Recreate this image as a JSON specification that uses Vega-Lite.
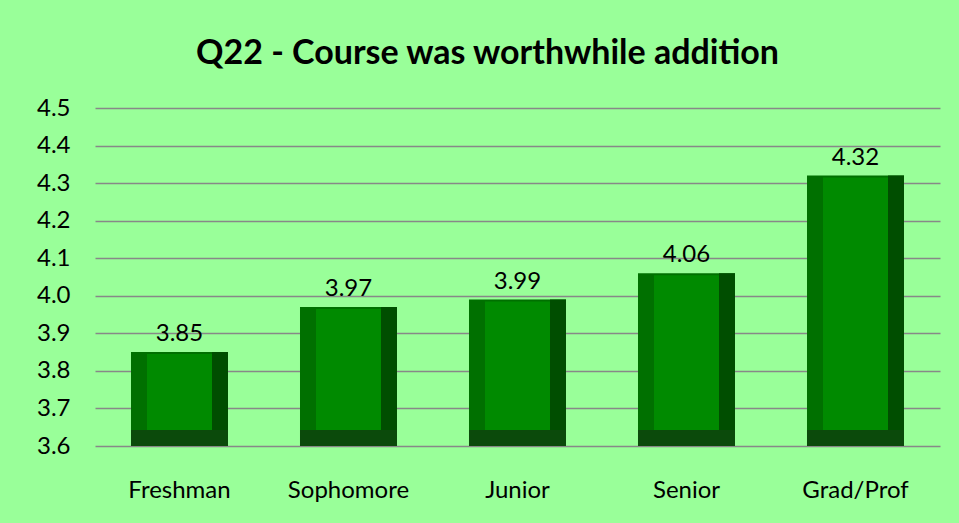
{
  "$schema": "https://vega.github.io/schema/vega-lite/v6.json",
  "width": 845,
  "height": 338,
  "autosize": {"type": "none"},
  "padding": {"left": 95, "top": 108, "right": 19, "bottom": 77},
  "background": "#99FF99",
  "title": {
    "text": "Q22 - Course was worthwhile addition",
    "font": "Lato",
    "fontSize": 34,
    "fontWeight": "bold",
    "color": "#000000",
    "anchor": "middle",
    "dx": -30,
    "offset": 25
  },
  "data": {
    "values": [
      {"group": "Freshman", "score": 3.85},
      {"group": "Sophomore", "score": 3.97},
      {"group": "Junior", "score": 3.99},
      {"group": "Senior", "score": 4.06},
      {"group": "Grad/Prof", "score": 4.32}
    ]
  },
  "encoding": {
    "x": {
      "field": "group",
      "type": "nominal",
      "sort": null,
      "scale": {"paddingInner": 0.426, "paddingOuter": 0.213},
      "axis": {
        "title": null,
        "labelAngle": 0,
        "labelFont": "Lato",
        "labelFontSize": 24,
        "labelColor": "#000000",
        "labelPadding": 32,
        "ticks": false,
        "domain": false
      }
    },
    "y": {
      "field": "score",
      "type": "quantitative",
      "scale": {"domain": [3.6, 4.5], "zero": false, "nice": false},
      "axis": {
        "title": null,
        "values": [3.6, 3.7, 3.8, 3.9, 4.0, 4.1, 4.2, 4.3, 4.4, 4.5],
        "format": ".1f",
        "labelOverlap": false,
        "labelFont": "Lato",
        "labelFontSize": 24,
        "labelColor": "#000000",
        "labelPadding": 25,
        "ticks": false,
        "domain": false,
        "grid": true,
        "gridColor": "#888888",
        "gridOpacity": 1,
        "gridWidth": 1.5
      }
    }
  },
  "layer": [
    {
      "mark": {"type": "bar", "color": "#007000"},
      "encoding": {
        "y2": {"datum": 3.6}
      }
    },
    {
      "mark": {"type": "bar", "color": "#004E00", "width": 16, "xOffset": 40.5},
      "encoding": {
        "y2": {"datum": 3.6}
      }
    },
    {
      "mark": {"type": "bar", "color": "#008A00", "width": 65, "y2Offset": -16, "yOffset": 2},
      "encoding": {
        "y2": {"datum": 3.6}
      }
    },
    {
      "mark": {"type": "bar", "color": "#0B4A0B", "yOffset": -16},
      "encoding": {
        "y": {"datum": 3.6, "type": "quantitative"},
        "y2": {"datum": 3.6}
      }
    },
    {
      "mark": {"type": "text", "font": "Lato", "fontSize": 24, "color": "#000000", "baseline": "bottom", "dy": -6},
      "encoding": {
        "text": {"field": "score", "type": "quantitative", "format": ".2f"}
      }
    }
  ],
  "config": {
    "view": {"stroke": null}
  }
}
